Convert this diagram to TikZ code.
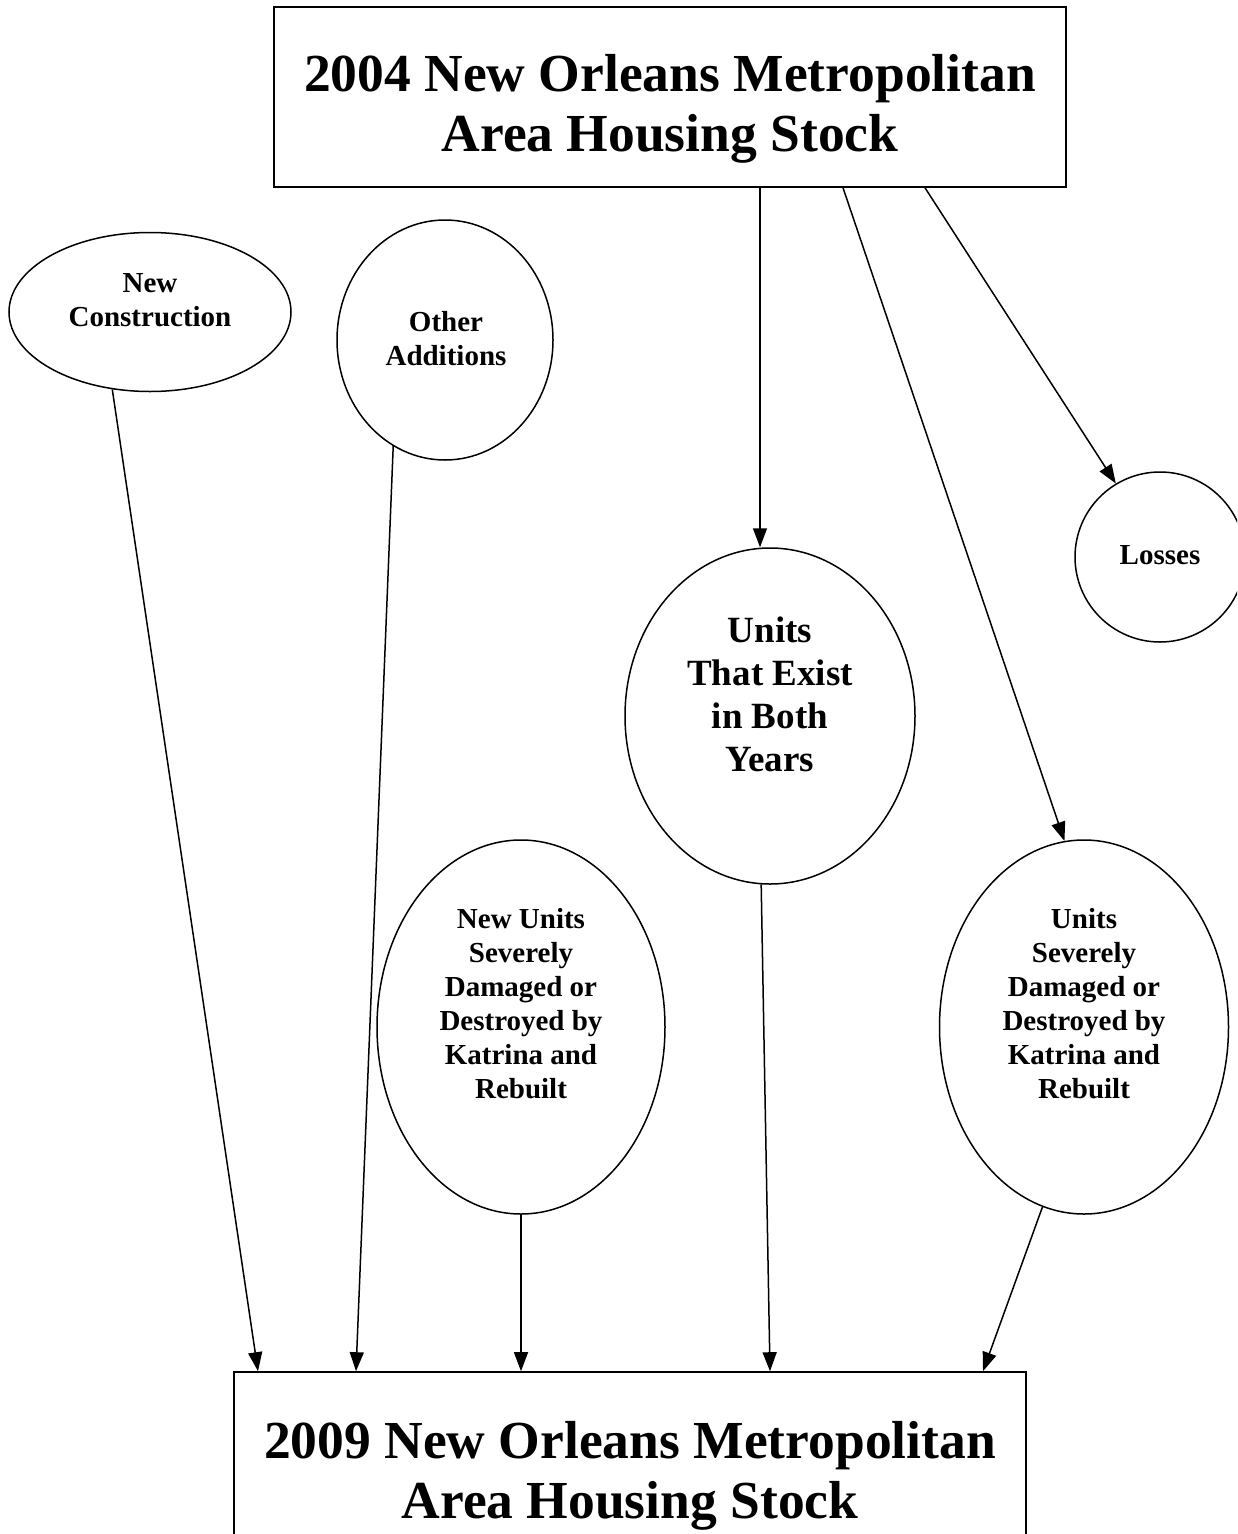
\documentclass[tikz,border=0pt]{standalone}
\usepackage{fontspec}
\setmainfont{Liberation Serif}
\usetikzlibrary{arrows.meta,shapes.geometric,calc}
\begin{document}
\begin{tikzpicture}[x=1pt,y=-1pt,
  box/.style={draw,line width=1.6pt,rectangle,inner sep=0pt},
  oval/.style={draw,line width=1.5pt,ellipse,inner sep=0pt},
  lbl/.style={align=center,inner sep=0pt,font=\bfseries\fontsize{29}{34}\selectfont},
  biglbl/.style={align=center,inner sep=0pt,font=\bfseries\fontsize{37}{43}\selectfont},
  ttl/.style={align=center,inner sep=0pt,font=\bfseries\fontsize{53.5}{60}\selectfont},
  arr/.style={line width=1.5pt,-{Triangle[length=19pt,width=14pt]}}]
\clip (0,0) rectangle (1237,1534);
\useasboundingbox (0,0) rectangle (1237,1534);
% boxes
\node[box,minimum width=792pt,minimum height=180pt] (tb) at (670,97) {};
\node[ttl] (tbt) at (670,109) {2004 New Orleans Metropolitan\\Area Housing Stock};
\node[box,minimum width=792pt,minimum height=190pt] (bb) at (630,1467) {};
\node[ttl] (bbt) at (630,1476) {2009 New Orleans Metropolitan\\Area Housing Stock};
% ellipses
\node[oval,minimum width=282pt,minimum height=159pt] (nc) at (150,312) {};
\node[lbl] (nct) at (150,300) {New\\Construction};
\node[oval,minimum width=216pt,minimum height=240pt] (oa) at (445,340) {};
\node[lbl] (oat) at (446,339) {Other\\Additions};
\node[oval,minimum width=170pt,minimum height=170pt] (lo) at (1160,557) {};
\node[lbl] (lot) at (1160,555) {Losses};
\node[oval,minimum width=290pt,minimum height=336pt] (ue) at (770,716) {};
\node[biglbl] (uet) at (770,694) {Units\\That Exist\\in Both\\Years};
\node[oval,minimum width=288pt,minimum height=374pt] (nu) at (521,1027) {};
\node[lbl] (nut) at (521,1004) {New Units\\Severely\\Damaged or\\Destroyed by\\Katrina and\\Rebuilt};
\node[oval,minimum width=289pt,minimum height=374pt] (us) at (1084,1027) {};
\node[lbl] (ust) at (1084,1004) {Units\\Severely\\Damaged or\\Destroyed by\\Katrina and\\Rebuilt};
% connectors from 2004 stock
\draw[arr] ($(tb.south)+(90,0)$) -- ($(ue.north)+(-10,0)$);
\draw[arr] ($(tb.south)+(173,0)$) -- (us.96);
\draw[arr] ($(tb.south)+(255,0)$) -- (lo.121);
% connectors into 2009 stock
\draw[arr] (nc.-116) -- ($(bb.north)+(-372,0)$);
\draw[arr] (oa.-116) -- ($(bb.north)+(-274,0)$);
\draw[arr] (nu.south) -- (nu.south |- bb.north);
\draw[arr] (ue.-93) -- ($(bb.north)+(140,0)$);
\draw[arr] (us.-103) -- ($(bb.north)+(353,0)$);
\end{tikzpicture}
\end{document}
